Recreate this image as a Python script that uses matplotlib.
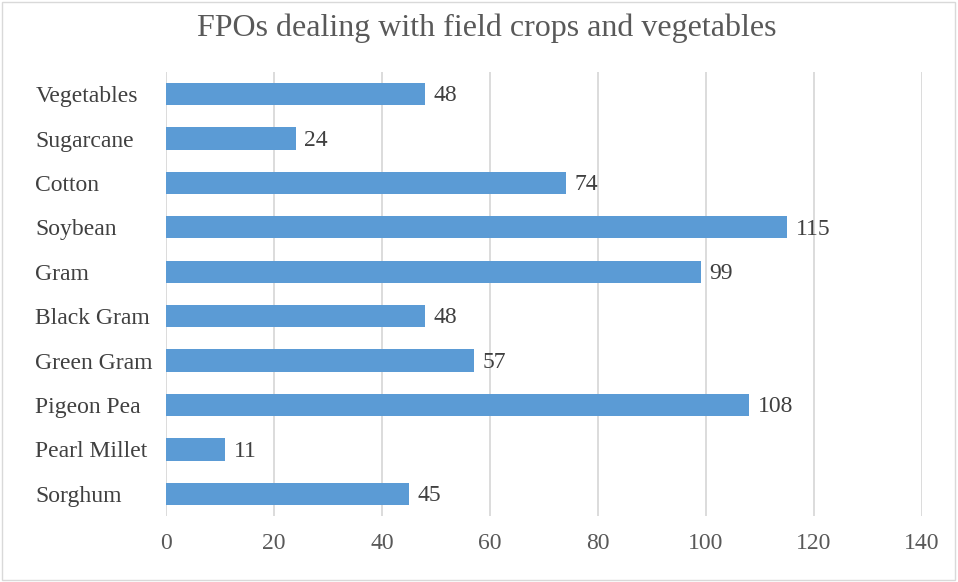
import matplotlib.pyplot as plt
from matplotlib.patches import Rectangle

crops = ['Sorghum', 'Pearl Millet', 'Pigeon Pea', 'Green Gram', 'Black Gram',
         'Gram', 'Soybean', 'Cotton', 'Sugarcane', 'Vegetables']
fpo_counts = [45, 11, 108, 57, 48, 99, 115, 74, 24, 48]
x_ticks = [0, 20, 40, 60, 80, 100, 120, 140]

plt.rcParams['font.family'] = ['Liberation Serif', 'DejaVu Serif']

fig = plt.figure(figsize=(9.58, 5.82), dpi=100)
ax = fig.add_axes([166 / 958, 1 - 516 / 582, (922 - 166) / 958, (516 - 72) / 582])

bars = ax.barh(crops, fpo_counts, height=0.5, color='#5B9BD5', zorder=3)
for bar, v in zip(bars, fpo_counts):
    ax.text(bar.get_width() + 1.6, bar.get_y() + bar.get_height() / 2 - 0.04, str(v),
            va='center', ha='left', fontsize=17, color='#404040')

ax.set_xlim(0, 140)
ax.set_ylim(-0.5, len(crops) - 0.5)
ax.set_xticks(x_ticks)
ax.grid(axis='x', color='#D9D9D9', linewidth=1.3, zorder=0)
ax.grid(axis='y', visible=False)
for s in ax.spines.values():
    s.set_visible(False)
ax.tick_params(axis='both', length=0, labelsize=17)
ax.tick_params(axis='x', pad=12, labelcolor='#595959')
ax.tick_params(axis='y', pad=94, labelcolor='#404040')
for lbl in ax.get_yticklabels():
    lbl.set_horizontalalignment('left')

fig.text(487 / 958, 1 - 28 / 582, 'FPOs dealing with field crops and vegetables',
         ha='center', va='center', fontsize=23, color='#595959')

fig.patches.append(Rectangle((0.002, 0.003), 0.995, 0.994, transform=fig.transFigure,
                             fill=False, edgecolor='#D9D9D9', linewidth=1))

fig.savefig('out.png', dpi=100)
